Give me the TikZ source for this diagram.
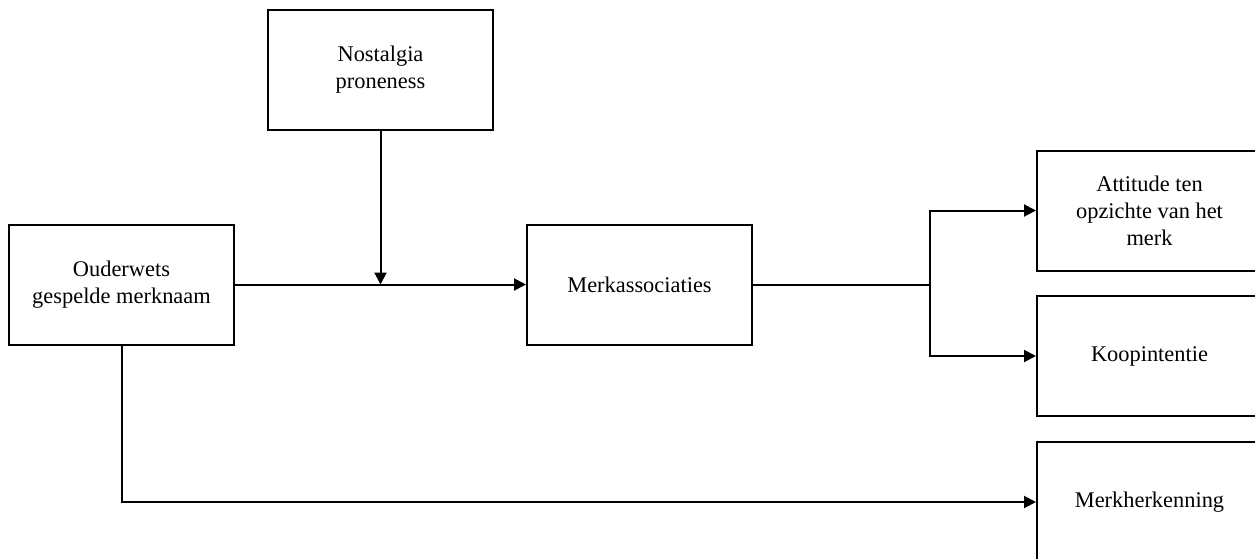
\documentclass[tikz,border=0pt]{standalone}
\usepackage{fontspec}
\setmainfont{Liberation Serif}
\usetikzlibrary{arrows.meta}
\tikzset{
    varbox/.style={draw, line width=1.5pt, minimum width=168.75pt, minimum height=90pt,
        align=center, inner sep=0pt, font=\fontsize{16.8}{20.2}\selectfont},
    pijl/.style={line width=1.5pt, -{Triangle[length=9pt,width=9pt]}},
    lijn/.style={line width=1.5pt}
}
\begin{document}
\begin{tikzpicture}[x=0.75pt,y=-0.75pt]
\useasboundingbox (0,0) rectangle (1255,558);

% Variabelen
\node[varbox] (nostalgie) at (380.5,70) {Nostalgia\\proneness};
\node[varbox] (ouderwets) at (121.5,284.5) {Ouderwets\\gespelde merknaam};
\node[varbox] (assoc) at (639.5,284.5) {Merkassociaties};
\node[varbox] (attitude) at (1149.5,210.5) {Attitude ten\\opzichte van het\\merk};
\node[varbox] (koop) at (1149.5,356) {Koopintentie};
\node[varbox] (herken) at (1149.5,502) {Merkherkenning};

% Verbindingen
\coordinate (mod) at (nostalgie.south |- ouderwets.east);
\coordinate (split) at (930,284.5);
\draw[pijl] (ouderwets.east) -- (assoc.west);
\draw[pijl] (nostalgie.south) -- (mod);
\draw[lijn] (assoc.east) -- (split);
\draw[pijl] (split) |- (attitude.west);
\draw[pijl] (split) |- (koop.west);
\draw[pijl] (ouderwets.south) |- (herken.west);

\end{tikzpicture}
\end{document}
